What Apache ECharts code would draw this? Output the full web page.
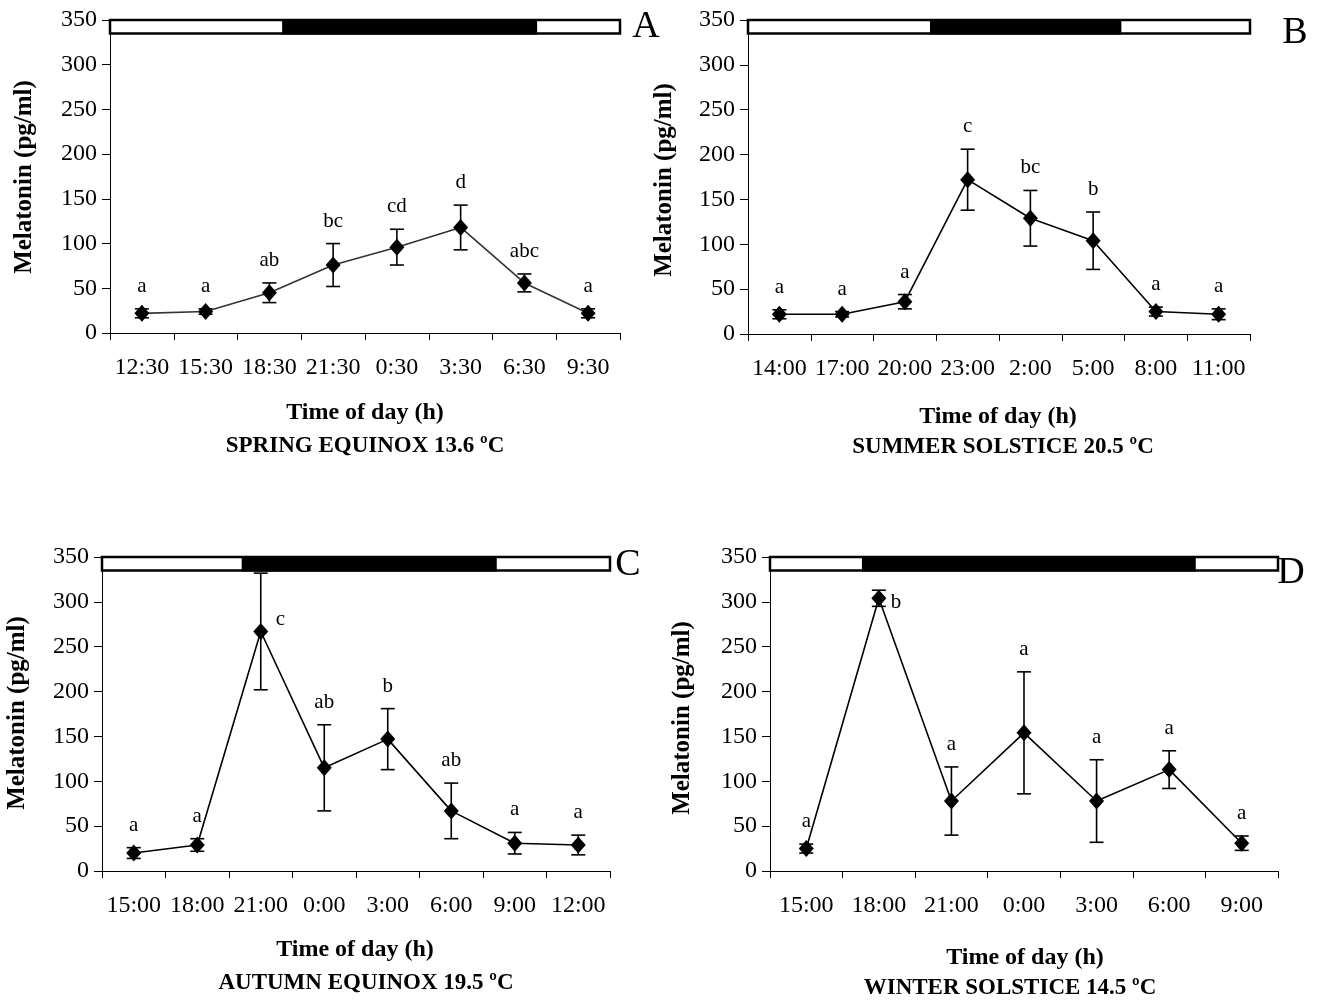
<!DOCTYPE html>
<html>
<head>
<meta charset="utf-8">
<script src="https://cdn.jsdelivr.net/npm/echarts@6/dist/echarts.min.js"></script>
<style>
html,body{margin:0;padding:0;background:#fff;}
#chart{width:1328px;height:1005px;}
</style>
</head>
<body>
<div id="chart"></div>
<script>
// ---------------- DATA ----------------
const catsA = ['12:30','15:30','18:30','21:30','0:30','3:30','6:30','9:30'];
const meanA = [22, 24, 45, 76, 96, 118, 56, 22];
const semA  = [5, 3, 11, 24, 20, 25, 10, 5];
const letA  = ['a','a','ab','bc','cd','d','abc','a'];

const catsB = ['14:00','17:00','20:00','23:00','2:00','5:00','8:00','11:00'];
const meanB = [22, 22, 36, 172, 129, 104, 25, 22];
const semB  = [5, 3, 8, 34, 31, 32, 5, 6];
const letB  = ['a','a','a','c','bc','b','a','a'];

const catsC = ['15:00','18:00','21:00','0:00','3:00','6:00','9:00','12:00'];
const meanC = [20, 29, 267, 115, 147, 67, 31, 29];
const semC  = [6, 7, 65, 48, 34, 31, 12, 11];
const letC  = ['a','a','c','ab','b','ab','a','a'];

const catsD = ['15:00','18:00','21:00','0:00','3:00','6:00','9:00'];
const meanD = [25, 304, 78, 154, 78, 113, 31];
const semD  = [5, 9, 38, 68, 46, 21, 8];
const letD  = ['a','b','a','a','a','a','a'];

// lights off / lights on (clock hours), first category hour
const lightsOff = [19.1, 21.2, 20.1, 17.3];
const lightsOn  = [7.1, 6.35, 8.15, 7.1];
const firstHour = [12.5, 14, 15, 15];

const panelLetters = ['A','B','C','D'];
const seasonTitles = ['SPRING EQUINOX 13.6 ºC','SUMMER SOLSTICE 20.5 ºC','AUTUMN EQUINOX 19.5 ºC','WINTER SOLSTICE 14.5 ºC'];
const xTitle = 'Time of day (h)';
const yTitle = 'Melatonin (pg/ml)';
const yTicks = {min: 0, max: 350, interval: 50};

// ---------------- LAYOUT ----------------
const FONT = '"Liberation Serif","Times New Roman",serif';
const panels = [
  {cats:catsA, mean:meanA, sem:semA, let:letA, grid:{left:110, top:20, width:510, height:313}, lineColor:'#333',
   yName:[25,177], xName:[365,413], sub:[365,446], letter:[646,27], right:{}},
  {cats:catsB, mean:meanB, sem:semB, let:letB, grid:{left:748, top:20, width:502, height:314}, lineColor:'#000',
   yName:[665,180], xName:[998,417], sub:[1003,447], letter:[1295,33], right:{}},
  {cats:catsC, mean:meanC, sem:semC, let:letC, grid:{left:102, top:557, width:508, height:314}, lineColor:'#000',
   yName:[18,713], xName:[355,950], sub:[366,983], letter:[628,565], right:{2:[15,-12]}},
  {cats:catsD, mean:meanD, sem:semD, let:letD, grid:{left:770, top:557, width:508, height:314}, lineColor:'#000',
   yName:[683,718], xName:[1025,958], sub:[1010,988], letter:[1291,573], right:{1:[12,4]}}
];

const grids = [], xAxes = [], yAxes = [], series = [], graphics = [];

panels.forEach((p, i) => {
  grids.push(Object.assign({containLabel:false}, p.grid));
  const axMin = firstHour[i] - 1.5;
  const axMax = axMin + 3 * p.cats.length;
  xAxes.push({
    type:'category', gridIndex:i, data:p.cats, boundaryGap:true,
    axisLine:{lineStyle:{color:'#000', width:1}},
    axisTick:{show:true, length:7, alignWithLabel:false, lineStyle:{color:'#000'}},
    axisLabel:{color:'#000', fontFamily:FONT, fontSize:24, margin:23, interval:0},
    splitLine:{show:false}
  });
  xAxes.push({type:'value', gridIndex:i, show:false, min:axMin, max:axMax});
  yAxes.push({
    type:'value', gridIndex:i, min:yTicks.min, max:yTicks.max, interval:yTicks.interval,
    axisLine:{show:true, lineStyle:{color:'#000', width:1}},
    axisTick:{show:true, length:8, lineStyle:{color:'#000'}},
    axisLabel:{color:'#000', fontFamily:FONT, fontSize:24, margin:13},
    splitLine:{show:false}
  });
  const catAx = i * 2, hourAx = i * 2 + 1;

  series.push({
    type:'custom', xAxisIndex:hourAx, yAxisIndex:i, silent:true, z:5,
    data:[[lightsOff[i], lightsOn[i] + 24, axMin, axMax]],
    renderItem:function(params, api){
      const off = api.value(0), on = api.value(1), a0 = api.value(2), a1 = api.value(3);
      const tl = api.coord([a0, 350]), br = api.coord([a1, 335]);
      const d0 = api.coord([off, 350]), d1 = api.coord([on, 335]);
      return {type:'group', children:[
        {type:'rect', shape:{x:tl[0], y:tl[1], width:br[0]-tl[0], height:br[1]-tl[1]},
         style:{fill:'#fff', stroke:'#000', lineWidth:2.5}},
        {type:'rect', shape:{x:d0[0], y:d0[1]-1, width:d1[0]-d0[0], height:d1[1]-d0[1]+2},
         style:{fill:'#000'}}
      ]};
    }
  });

  series.push({
    type:'custom', xAxisIndex:catAx, yAxisIndex:i, silent:true, z:3,
    data:p.mean.map((m, k) => [k, m, p.sem[k]]),
    renderItem:function(params, api){
      const k = api.value(0), m = api.value(1), e = api.value(2);
      const top = api.coord([k, m + e]), bot = api.coord([k, m - e]), pt = api.coord([k, m]);
      const hw = 7;
      const st = {stroke:'#000', lineWidth:1.6};
      const letter = p.let[params.dataIndex];
      const r = p.right[params.dataIndex];
      const txt = r ?
        {type:'text', x:pt[0] + r[0], y:pt[1] + r[1],
         style:{text:letter, fill:'#000', font:'21px ' + FONT, align:'left', verticalAlign:'middle'}} :
        {type:'text', x:top[0], y:top[1] - 12,
         style:{text:letter, fill:'#000', font:'21px ' + FONT, align:'center', verticalAlign:'bottom'}};
      return {type:'group', children:[
        {type:'line', shape:{x1:top[0], y1:top[1], x2:bot[0], y2:bot[1]}, style:st},
        {type:'line', shape:{x1:top[0]-hw, y1:top[1], x2:top[0]+hw, y2:top[1]}, style:st},
        {type:'line', shape:{x1:bot[0]-hw, y1:bot[1], x2:bot[0]+hw, y2:bot[1]}, style:st},
        txt
      ]};
    }
  });

  series.push({
    type:'line', xAxisIndex:catAx, yAxisIndex:i, data:p.mean, z:4,
    symbol:'diamond', symbolSize:[15,17], showAllSymbol:true,
    itemStyle:{color:'#000'}, lineStyle:{color:p.lineColor, width:1.6},
    animation:false
  });

  graphics.push({type:'text', x:p.yName[0], y:p.yName[1], rotation:Math.PI/2,
    style:{text:yTitle, font:'bold 25px ' + FONT, fill:'#000', align:'center', verticalAlign:'middle'}});
  graphics.push({type:'text', x:p.xName[0], y:p.xName[1],
    style:{text:xTitle, font:'bold 24px ' + FONT, fill:'#000', align:'center', verticalAlign:'middle'}});
  graphics.push({type:'text', x:p.sub[0], y:p.sub[1],
    style:{text:seasonTitles[i], font:'bold 23px ' + FONT, fill:'#000', align:'center', verticalAlign:'middle'}});
  graphics.push({type:'text', x:p.letter[0], y:p.letter[1],
    style:{text:panelLetters[i], font:'38px ' + FONT, fill:'#000', align:'center', verticalAlign:'middle'}});
});

const chart = echarts.init(document.getElementById('chart'), null, {renderer:'canvas'});
chart.setOption({
  backgroundColor:'#fff',
  animation:false,
  grid:grids, xAxis:xAxes, yAxis:yAxes, series:series, graphic:graphics
});
</script>
</body>
</html>
